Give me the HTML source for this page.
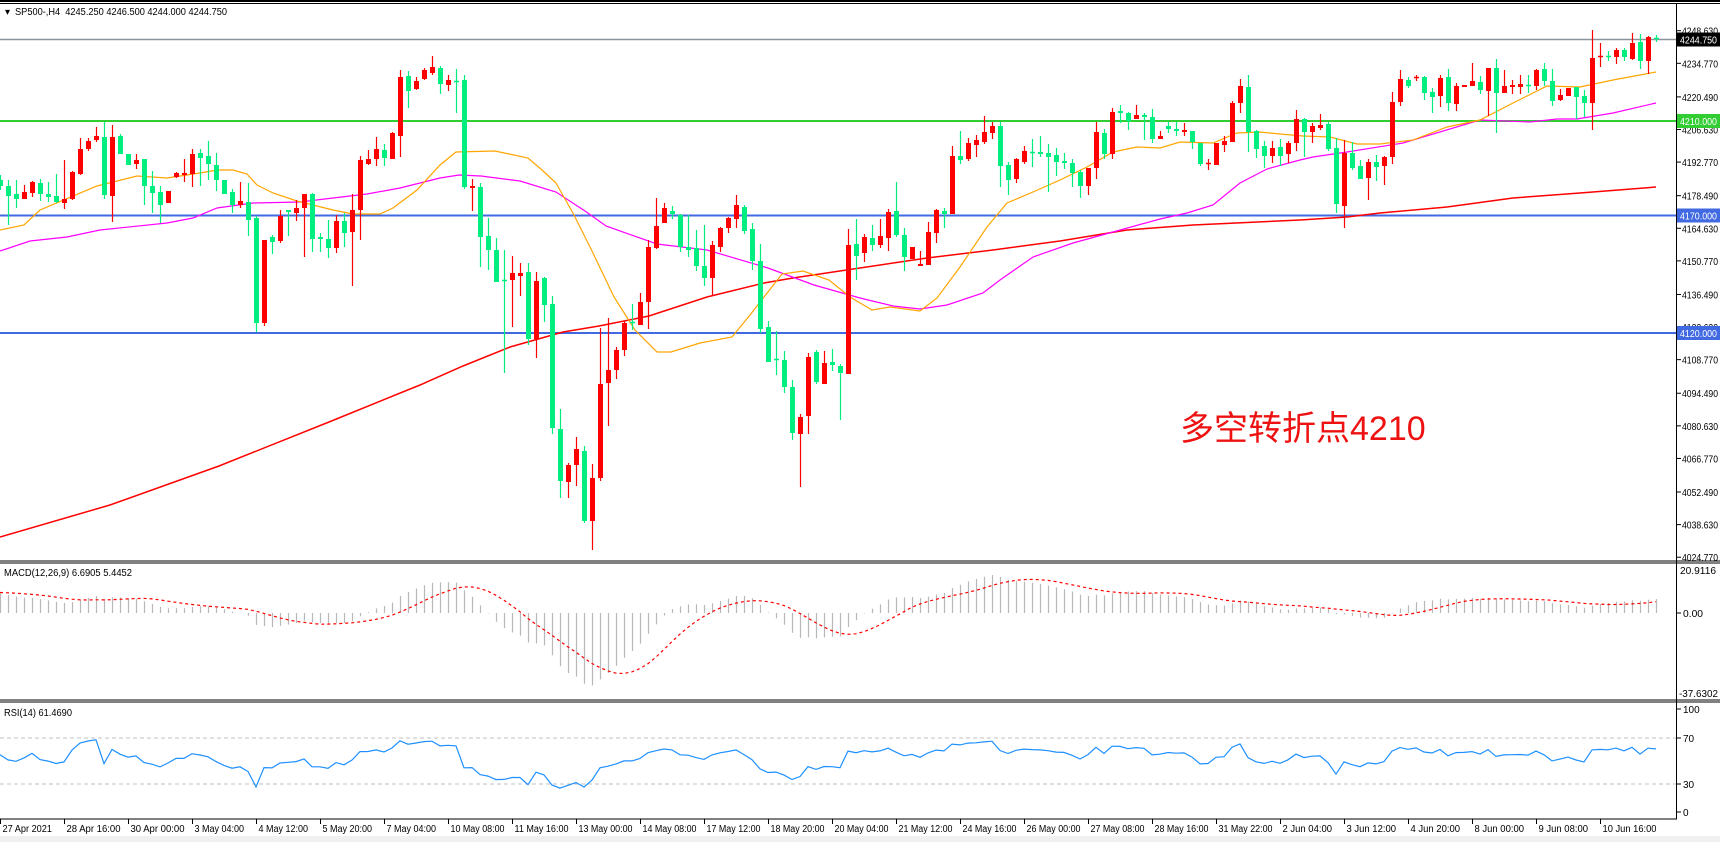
<!DOCTYPE html>
<html><head><meta charset="utf-8">
<style>
html,body{margin:0;padding:0;background:#fff;}
svg{display:block;font-family:"Liberation Sans",Tahoma,sans-serif;}
</style></head>
<body>
<svg id="c" width="1720" height="842" xmlns="http://www.w3.org/2000/svg"></svg>
<script>
const D=`G 180 186 175 190|G 186 196 180 225|G 194 199 180 208|R 192 199 185 199|R 182 193 181 197|G 183 194 179 201|G 194 197 182 202|G 196 202 174 203|R 199 203 160 209|R 172 199 171 200|R 149 174 138 175|R 141 149 138 151|R 136 140 127 142|G 137 195 122 199|R 137 196 125 222|G 136 154 134 154|G 154 165 154 165|R 160 164 154 169|G 159 186 159 205|G 186 193 171 213|G 192 205 186 223|R 191 203 191 203|R 173 177 172 178|R 173 175 159 182|R 154 174 149 187|G 153 158 149 186|G 156 164 141 180|G 165 180 153 191|G 180 194 180 194|G 192 205 189 213|R 201 205 182 208|G 202 220 183 236|G 218 323 216 332|R 240 323 240 326|G 237 242 235 254|R 216 241 210 243|G 210 212 210 236|R 208 213 200 221|R 194 208 194 257|G 194 239 193 252|G 237 239 233 252|G 239 248 220 258|R 221 248 215 253|G 221 233 213 247|R 210 232 194 286|R 160 210 156 240|R 159 164 150 165|R 149 159 137 166|G 150 158 144 166|R 133 159 132 159|R 77 136 70 157|G 76 91 71 108|R 81 89 77 90|R 70 79 68 80|R 67 73 56 75|G 68 84 66 94|R 80 85 75 91|G 81 82 69 113|G 80 187 75 189|R 186 188 179 211|G 187 237 183 267|G 236 250 218 270|G 250 282 238 282|G 280 281 250 373|R 273 280 256 327|R 273 276 263 296|G 272 339 263 345|R 281 339 272 358|G 278 305 277 322|G 304 428 296 434|G 429 481 409 498|R 465 482 463 498|R 449 465 437 486|G 451 521 446 523|R 478 521 464 550|R 384 478 328 481|R 370 383 318 426|R 350 370 347 379|R 323 350 321 356|G 322 323 304 330|R 302 325 293 325|R 247 302 240 329|R 226 248 198 249|R 208 223 203 223|G 211 214 206 219|G 215 247 214 252|G 247 250 215 257|G 248 266 230 271|G 266 278 225 286|R 245 278 241 296|R 228 247 227 252|R 218 228 217 233|R 205 219 195 228|G 207 231 205 234|G 229 261 223 270|G 261 329 244 333|G 327 362 321 362|G 359 360 331 375|G 360 387 351 393|G 387 433 380 440|R 417 434 414 487|R 357 416 353 434|G 352 382 350 384|R 363 384 351 384|G 362 365 349 371|G 366 373 364 420|R 245 374 229 374|G 244 256 219 280|R 237 253 234 262|G 238 245 225 251|R 236 245 219 248|R 212 238 209 251|G 211 235 182 237|G 235 257 228 271|R 247 259 247 259|R 264 266 251 266|R 232 265 222 265|R 210 233 209 243|G 211 214 208 228|R 156 214 146 214|G 156 160 131 164|R 143 159 138 161|R 140 145 135 157|R 132 142 116 144|R 126 133 122 139|G 126 166 122 187|G 165 180 162 195|R 159 179 158 183|R 151 162 146 164|G 152 153 139 167|G 152 154 136 157|G 153 157 144 192|G 155 162 148 176|G 161 163 153 169|G 163 173 159 187|G 172 186 170 198|R 168 186 168 195|R 132 168 122 179|G 133 154 129 159|R 112 154 108 159|G 111 113 105 123|G 113 121 112 130|R 115 119 105 119|G 115 117 113 140|G 117 139 109 143|R 136 139 131 139|G 126 129 122 133|G 129 131 122 136|R 130 132 123 136|G 131 142 131 149|G 143 164 143 166|R 163 164 159 170|R 143 165 143 165|R 141 145 136 152|R 103 142 101 142|R 86 103 79 113|G 87 132 75 152|G 131 149 130 158|G 146 156 141 168|R 148 156 141 163|G 147 156 139 166|R 143 154 141 163|R 119 143 110 151|G 119 132 118 157|R 126 132 123 143|R 125 128 114 130|G 124 149 122 151|G 148 204 138 213|R 153 206 140 228|G 153 168 142 170|G 166 179 160 179|R 162 178 159 200|G 162 167 155 181|R 157 166 156 185|R 102 157 92 164|R 79 102 70 106|G 80 86 77 88|R 77 78 75 81|G 77 93 76 100|G 92 97 88 113|R 78 96 75 107|G 77 103 69 111|R 86 104 83 111|R 85 87 85 87|R 81 86 63 86|G 82 90 76 94|R 68 91 68 116|G 68 93 59 133|R 86 93 70 93|R 85 87 80 94|R 84 87 75 94|G 85 86 75 93|R 70 86 69 90|G 69 81 63 86|G 81 101 69 106|R 95 100 89 101|R 88 96 88 96|G 87 97 87 119|G 96 103 90 117|R 58 103 30 130|R 56 57 43 67|G 56 57 51 61|R 50 57 48 64|G 50 57 48 61|R 43 59 33 60|G 42 61 34 69|R 37 61 36 74|G 38 39 35 42`;
const bars=D.split('|').map(s=>{const a=s.split(' ');return [a[0],+a[1],+a[2],+a[3],+a[4]];});
const P=y=>4248.63-(y-30.7)/2.352;
let s='';
const L=(x1,y1,x2,y2,c,w,extra)=>`<line x1="${x1}" y1="${y1}" x2="${x2}" y2="${y2}" stroke="${c}" stroke-width="${w||1}" ${extra||''}/>`;
const T=(x,y,t,c,sz,extra)=>`<text x="${x}" y="${y}" fill="${c||'#000'}" font-size="${sz||10}" ${extra||''}>${t}</text>`;
const TL=(x,y,t,len,c)=>`<text x="${x}" y="${y}" fill="${c||'#000'}" font-size="10" textLength="${len}" lengthAdjust="spacingAndGlyphs">${t}</text>`;
s+=`<rect x="0" y="0" width="1720" height="842" fill="#fff"/>`;
s+=L(0,1,1720,1,'#000',2);s+=L(0,3.5,1720,3.5,'#000',1);
s+=`<rect x="0" y="836" width="1720" height="6" fill="#f0f0f0"/>`;
s+=L(0,39.5,1676,39.5,'#8a929a',1.5);
s+=L(0,121,1676,121,'#32cd32',2);
s+=L(0,215.5,1676,215.5,'#4169e1',2);
s+=L(0,333,1676,333,'#4169e1',2);
const poly=(pts,c,w)=>`<polyline fill="none" stroke="${c}" stroke-width="${w}" points="${pts.map(p=>p.join(',')).join(' ')}"/>`;
s+=poly([[0,537],[110,505],[219,466],[329,422],[420,385],[463,366],[510,347],[563,332],[599,326],[649,316],[707,297],[764,283],[793,278],[860,268],[927,258],[993,250],[1060,241],[1127,230],[1193,225],[1300,220],[1347,217],[1380,213],[1447,207],[1513,198],[1580,193],[1656,187]],'#ff0000',1.5);
s+=poly([[0,251],[30,241],[67,237],[100,230],[167,223],[193,218],[217,208],[253,203],[300,202],[333,198],[367,194],[400,188],[440,178],[459,175],[481,176],[520,181],[556,192],[585,211],[606,226],[657,244],[707,250],[768,268],[814,285],[860,298],[893,306],[920,309],[947,305],[983,293],[1000,280],[1033,257],[1073,243],[1113,232],[1160,219],[1187,213],[1213,205],[1240,183],[1267,169],[1300,160],[1313,157],[1347,152],[1403,143],[1480,120],[1530,122],[1557,119],[1577,119],[1613,113],[1656,103]],'#ff00ff',1.2);
s+=poly([[0,230],[24,225],[40,210],[97,186],[113,182],[137,176],[167,178],[200,173],[217,170],[233,170],[247,174],[257,185],[273,193],[297,201],[333,210],[353,214],[380,214],[393,208],[417,190],[440,165],[456,152],[495,151],[528,158],[542,170],[556,183],[574,215],[592,251],[614,297],[635,330],[657,352],[671,352],[700,343],[732,337],[750,315],[782,274],[803,271],[829,280],[850,297],[872,310],[890,307],[920,311],[937,298],[960,267],[987,227],[1007,203],[1033,192],[1060,180],[1087,167],[1113,152],[1137,147],[1160,148],[1180,142],[1213,143],[1237,133],[1260,132],[1280,134],[1303,136],[1330,137],[1357,144],[1380,144],[1413,140],[1447,127],[1480,120],[1513,103],[1547,86],[1580,87],[1613,80],[1656,72]],'#ffa500',1.2);
bars.forEach((b,k)=>{const x=8*k+0.5;const c=b[0]=='R'?'#ff0000':'#00ee80';
 s+=L(x,b[3],x,b[4],c,1.2);
 let h=b[2]-b[1];if(h<1.5){s+=L(x-2.5,b[1]+0.5,x+2.5,b[1]+0.5,c,1.5);}
 else s+=`<rect x="${x-2.5}" y="${b[1]}" width="5" height="${h}" fill="${c}"/>`;});
s+=T(1180,440,'多空转折点4210','#ee1111',34,'font-family="Liberation Sans,Noto Sans CJK SC,sans-serif"');
s+=T(5,15,'▾','#000',10);s+=TL(15,15,'SP500-,H4&#160;&#160;4245.250 4246.500 4244.000 4244.750',212);
s+=L(0,561,1720,561,'#000',1);s+=L(0,563,1720,563,'#000',1);
s+=L(0,700,1720,700,'#000',1);s+=L(0,702,1720,702,'#000',1);
s+=L(0,819,1677,819,'#000',1);
s+=L(1676.5,4,1676.5,819,'#000',1);
const ticks=[4248.63,4234.77,4220.49,4206.63,4192.77,4178.49,4164.63,4150.77,4136.49,4122.63,4108.77,4094.49,4080.63,4066.77,4052.49,4038.63,4024.77];
ticks.forEach(p=>{const y=30.7+(4248.63-p)*2.352;s+=L(1677,y,1681,y,'#000',1);s+=TL(1682,y+4,p.toFixed(3),36);});
const box=(y,c,t)=>{s+=`<rect x="1677" y="${y-7}" width="43" height="14" fill="${c}"/>`;s+=TL(1680,y+4,t,37,'#fff');};
box(39.5,'#000','4244.750');box(121,'#32cd32','4210.000');box(215.5,'#4169e1','4170.000');box(333,'#4169e1','4120.000');
const cl=bars.map(b=>P(b[0]=='R'?b[1]:b[2]));
let e12=cl[0]-4,e26=cl[0]-14,mac=[],sig=[];
cl.forEach(c=>{e12+= (c-e12)*2/13;e26+=(c-e26)*2/27;mac.push(e12-e26);});
mac.forEach((m,i)=>{let a=0,n=0;for(let j=Math.max(0,i-8);j<=i;j++){a+=mac[j];n++;}let pad=9-n;a+=pad*10;sig.push(a/9);});
const my=v=>613-v*2.06;
mac.forEach((m,k)=>{s+=L(8*k+0.5,613,8*k+0.5,my(m),'#b8b8b8',1.2);});
s+=`<polyline fill="none" stroke="#ff0000" stroke-width="1.2" stroke-dasharray="3,3" points="${sig.map((v,k)=>(8*k)+','+my(v).toFixed(1)).join(' ')}"/>`;
s+=TL(4,576,'MACD(12,26,9) 6.6905 5.4452',128);
s+=TL(1680,574,'20.9116',36);s+=L(1677,613,1681,613,'#000');s+=TL(1683,617,'0.00',20);s+=TL(1679,697,'-37.6302',39);
let ag=2.0,al=1.6,rs=[];
for(let i=0;i<cl.length;i++){const d=i?cl[i]-cl[i-1]:0;ag=(ag*13+Math.max(d,0))/14;al=(al*13+Math.max(-d,0))/14;rs.push(100-100/(1+ag/al));}
const ry=v=>812-v*1.03;
s+=L(0,738,1676,738,'#c0c0c0',1,'stroke-dasharray="4,3"');s+=L(0,784,1676,784,'#c0c0c0',1,'stroke-dasharray="4,3"');
s+=`<polyline fill="none" stroke="#1e90ff" stroke-width="1.2" points="${rs.map((v,k)=>(8*k)+','+ry(v).toFixed(1)).join(' ')}"/>`;
s+=TL(4,716,'RSI(14) 61.4690',68);
[[100,709],[70,738],[30,784],[0,812]].forEach(a=>{s+=L(1677,a[1],1681,a[1],'#000');s+=T(1683,a[1]+4,a[0]);});
const tl=['27 Apr 2021','28 Apr 16:00','30 Apr 00:00','3 May 04:00','4 May 12:00','5 May 20:00','7 May 04:00','10 May 08:00','11 May 16:00','13 May 00:00','14 May 08:00','17 May 12:00','18 May 20:00','20 May 04:00','21 May 12:00','24 May 16:00','26 May 00:00','27 May 08:00','28 May 16:00','31 May 22:00','2 Jun 04:00','3 Jun 12:00','4 Jun 20:00','8 Jun 00:00','9 Jun 08:00','10 Jun 16:00'];
tl.forEach((t,i)=>{const x=64*i+0.5;s+=L(x,819,x,824,'#000');s+=TL(x+2,832,t,t.length*4.5);});
document.getElementById('c').innerHTML=s;
</script>
</body></html>
